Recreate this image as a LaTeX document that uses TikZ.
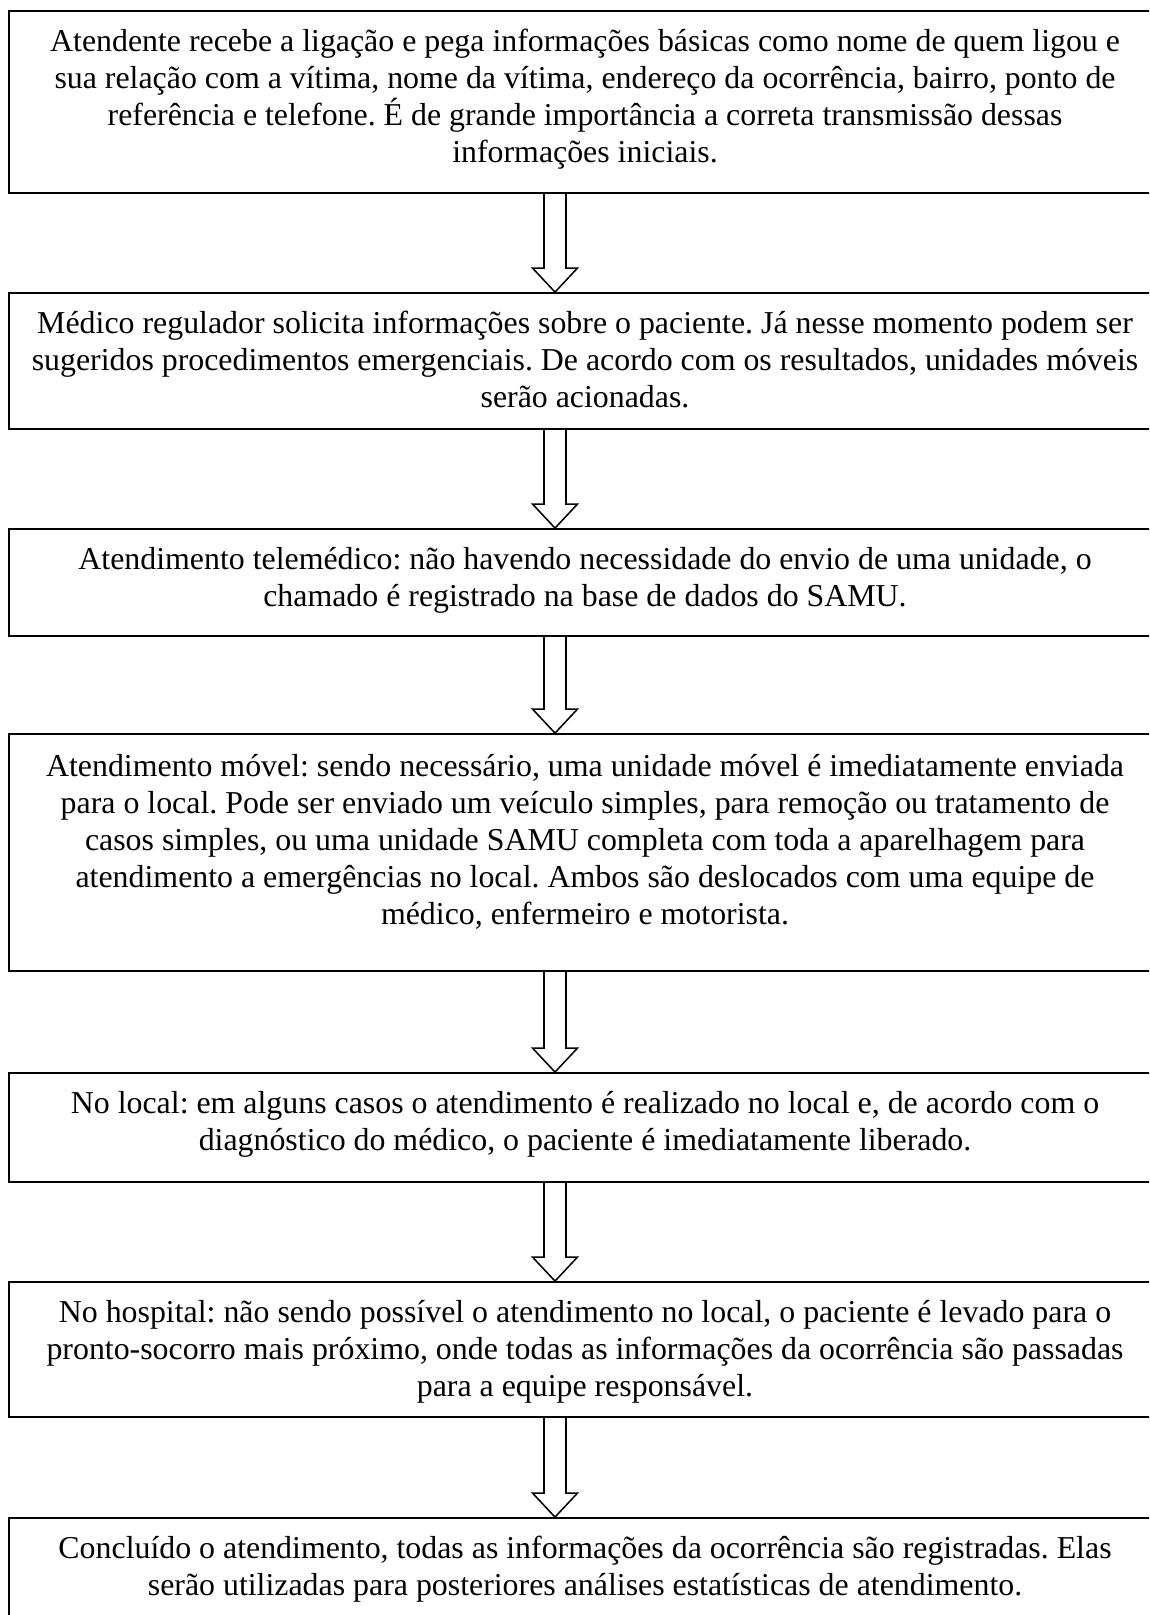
\documentclass[tikz,border=0pt]{standalone}
\usepackage{fontspec}
\setmainfont{Liberation Serif}
\usetikzlibrary{calc}
\frenchspacing
\tikzset{
  box/.style={draw=black, line width=1.4pt, minimum width=864pt, inner sep=0pt},
  txt/.style={align=center, inner sep=0pt, anchor=base, font=\frenchspacing\fontsize{23.9pt}{27.75pt}\selectfont},
  arrowline/.style={draw=black, line width=1.15pt, line join=miter}
}
\newcommand\blockarrow[2]{%
  \draw[arrowline] let \p1=(ax |- #1.south), \p2=(ax |- #2.north) in
    (\x1-8.25pt,\y1) -- (\x1-8.25pt,\y2+18pt) -- (\x1-16.875pt,\y2+18pt) -- (\x1,\y2)
    -- (\x1+16.875pt,\y2+18pt) -- (\x1+8.25pt,\y2+18pt) -- (\x1+8.25pt,\y1);%
}
\begin{document}
\begin{tikzpicture}[x=0.75pt, y=-0.75pt]
\clip (0,0) rectangle (1149,1615);
\fill[white] (0,0) rectangle (1149,1615);
\coordinate (ax) at (555,0);

\node[box, minimum height=136.5pt] (b1) at (585,102) {};
\node[box, minimum height=102pt] (b2) at (585,361) {};
\node[box, minimum height=80.25pt] (b3) at (585,582.5) {};
\node[box, minimum height=177.75pt] (b4) at (585,852.5) {};
\node[box, minimum height=81.75pt] (b5) at (585,1127.5) {};
\node[box, minimum height=101.25pt] (b6) at (585,1349.5) {};
\node[box, minimum height=84pt] (b7) at (585,1574) {};

\node[txt] (t1) at (585,163) {Atendente recebe a ligação e pega informações básicas como nome de quem ligou e\\
sua relação com a vítima, nome da vítima, endereço da ocorrência, bairro, ponto de\\
referência e telefone. É de grande importância a correta transmissão dessas\\
informações iniciais.};
\node[txt] (t2) at (585,407) {Médico regulador solicita informações sobre o paciente. Já nesse momento podem ser\\
sugeridos procedimentos emergenciais. De acordo com os resultados, unidades móveis\\
serão acionadas.};
\node[txt] (t3) at (585,606) {Atendimento telemédico: não havendo necessidade do envio de uma unidade, o\\
chamado é registrado na base de dados do SAMU.};
\node[txt] (t4) at (585,924) {Atendimento móvel: sendo necessário, uma unidade móvel é imediatamente enviada\\
para o local. Pode ser enviado um veículo simples, para remoção ou tratamento de\\
casos simples, ou uma unidade SAMU completa com toda a aparelhagem para\\
atendimento a emergências no local. Ambos são deslocados com uma equipe de\\
médico, enfermeiro e motorista.};
\node[txt] (t5) at (585,1150) {No local: em alguns casos o atendimento é realizado no local e, de acordo com o\\
diagnóstico do médico, o paciente é imediatamente liberado.};
\node[txt] (t6) at (585,1396) {No hospital: não sendo possível o atendimento no local, o paciente é levado para o\\
pronto-socorro mais próximo, onde todas as informações da ocorrência são passadas\\
para a equipe responsável.};
\node[txt] (t7) at (585,1595) {Concluído o atendimento, todas as informações da ocorrência são registradas. Elas\\
serão utilizadas para posteriores análises estatísticas de atendimento.};

\blockarrow{b1}{b2}
\blockarrow{b2}{b3}
\blockarrow{b3}{b4}
\blockarrow{b4}{b5}
\blockarrow{b5}{b6}
\blockarrow{b6}{b7}
\end{tikzpicture}
\end{document}
